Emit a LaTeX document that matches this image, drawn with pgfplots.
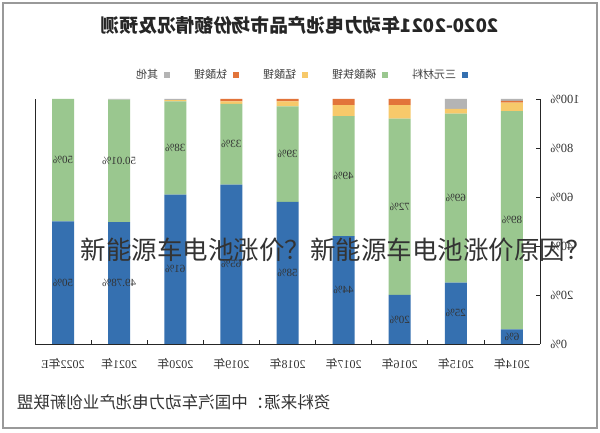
\documentclass[border=0pt]{standalone}
\usepackage{pgfplots}
\pgfplotsset{compat=1.18}
\usepackage{pgfplotstable}
\usepackage{graphicx}
\usepackage{fontspec}
\setmainfont{Liberation Serif}
\newfontfamily\cjk{Noto Sans CJK SC}
\definecolor{cblue}{HTML}{3570B0}
\definecolor{cgreen}{HTML}{9AC78F}
\definecolor{cyellow}{HTML}{F7C96A}
\definecolor{corange}{HTML}{E2743A}
\definecolor{cgray}{HTML}{B4B4B4}
% x: 0 = 2022E ... 8 = 2014 (chart is shown mirrored)
\pgfplotstableread{
x tern lfp lmo lto oth
0 50 50 0 0 0
1 49.78 50.01 0 0 0.21
2 61 38 0.5 0 0.5
3 65 33 1 1 0
4 58 39 2 1 0
5 44 49 4.5 2.5 0
6 20 72 5.5 2.5 0
7 25 69 2 0 4
8 6 89 3.5 0.7 0.8
}\shares
\pgfplotsset{seglabel/.style={
  point meta=\thisrow{#1},
  nodes near coords={\reflectbox{\pgfmathprintnumber{\pgfplotspointmeta}\%}},
  nodes near coords align=center,
  every node near coord/.style={anchor=center,
     font=\fontsize{11}{13}\selectfont, text=black!80},
}}
\begin{document}
\begin{tikzpicture}
\fill[white] (0,0) rectangle (600pt,433pt);
\draw[black!40, line width=1.2pt] (3pt,5pt) rectangle (597pt,430pt);
\node[font=\cjk\bfseries\fontsize{18.7}{22}\selectfont, text=black!85] at (300pt,408pt)
  {\reflectbox{2020-2021年动力电池产品市场份额情况及预测}};
\node[font=\cjk\fontsize{16.5}{19}\selectfont, text=black!80, anchor=east] at (334pt,31pt)
  {\reflectbox{资料来源：中国汽车动力电池产业创新联盟}};
\begin{axis}[
  at={(287.5pt,211.5pt)}, anchor=center,
  scale only axis, width=505pt, height=245pt,
  ybar stacked, bar width=22pt,
  xmin=-0.5, xmax=8.5, ymin=0, ymax=100,
  axis x line*=bottom, axis y line*=right,
  axis line style={-, black!85, line width=0.8pt},
  tick align=inside,
  /pgf/number format/assume math mode=true,
  xtick={0,...,8},
  xticklabels={
    \reflectbox{2022{\cjk 年}E},
    \reflectbox{2021{\cjk 年}},
    \reflectbox{2020{\cjk 年}},
    \reflectbox{2019{\cjk 年}},
    \reflectbox{2018{\cjk 年}},
    \reflectbox{2017{\cjk 年}},
    \reflectbox{2016{\cjk 年}},
    \reflectbox{2015{\cjk 年}},
    \reflectbox{2014{\cjk 年}}},
  major x tick style={draw=none},
  minor xtick={-0.5,0.5,...,8.5},
  minor tick length=4pt,
  minor x tick style={black!85, line width=0.6pt},
  ytick={0,20,...,100},
  major tick length=4pt,
  y tick style={black!85, line width=0.6pt},
  yticklabel={\reflectbox{\pgfmathprintnumber{\tick}\%}},
  yticklabel style={anchor=west, xshift=7pt, font=\fontsize{12.5}{14}\selectfont},
  xticklabel style={yshift=-11pt, font=\fontsize{12}{14}\selectfont},
  tick label style={text=black!80},
  legend style={at={(0.527,1.098)}, anchor=center, draw=none, fill=none,
     legend columns=-1, font=\cjk\fontsize{11}{13}\selectfont, text=black!75,
     /tikz/every even column/.append style={column sep=22pt},
     /tikz/every odd column/.append style={column sep=4pt}},
  legend plot pos=right,
  reverse legend,
  legend image code/.code={\fill[#1] (0pt,-3pt) rectangle (6pt,3pt);},
  after end axis/.code={\draw[black!85, line width=0.8pt] (rel axis cs:0,0) -- (rel axis cs:0,1);},
]
\addplot[fill=cblue, draw=none, seglabel=tern] table[x=x,y=tern]{\shares};
\addplot[fill=cgreen, draw=none, seglabel=lfp] table[x=x,y=lfp]{\shares};
\addplot[fill=cyellow, draw=none] table[x=x,y=lmo]{\shares};
\addplot[fill=corange, draw=none] table[x=x,y=lto]{\shares};
\addplot[fill=cgray, draw=none] table[x=x,y=oth]{\shares};
\legend{\reflectbox{三元材料},\reflectbox{磷酸铁锂},\reflectbox{锰酸锂},\reflectbox{钛酸锂},\reflectbox{其他}}
\end{axis}
\node[font=\cjk\fontsize{25.5}{28}\selectfont, text=black!80, anchor=west] at (77pt,183pt)
  {新能源车电池涨价？新能源车电池涨价原因？};
\end{tikzpicture}
\end{document}
